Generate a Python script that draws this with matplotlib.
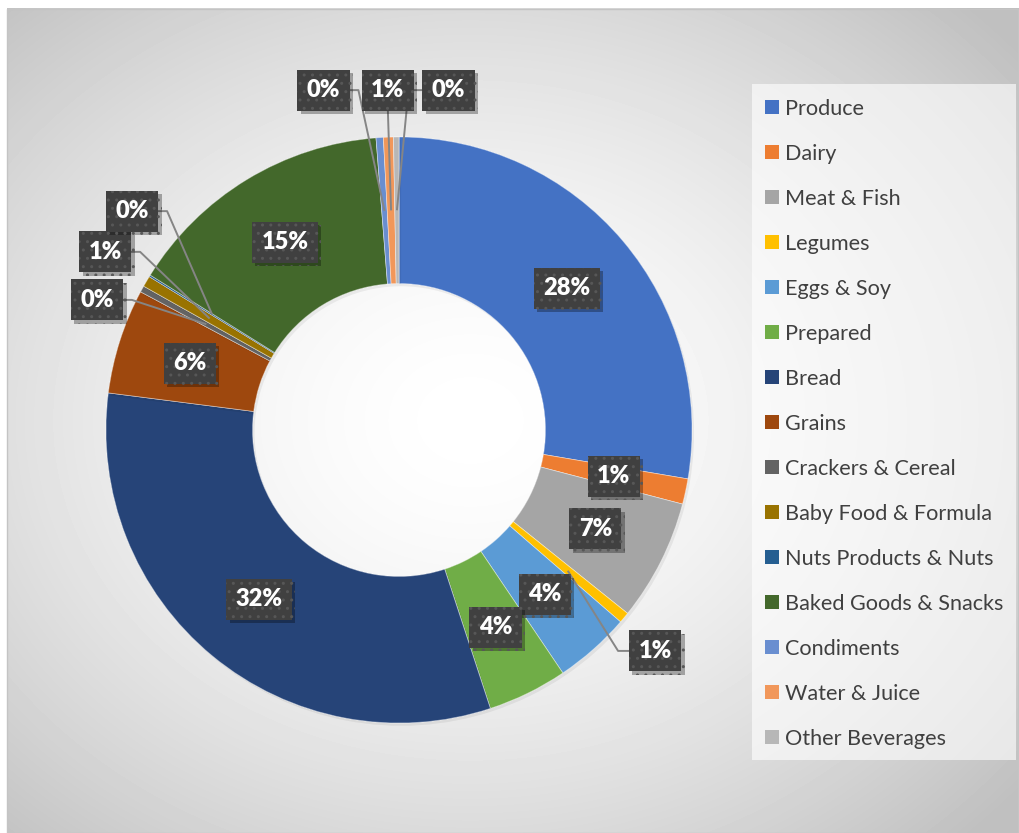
import numpy as np
import matplotlib
matplotlib.use("Agg")
import matplotlib.pyplot as plt
from matplotlib.patches import Rectangle
import matplotlib.patheffects as pe

# ---------------- data ----------------
categories = ["Produce", "Dairy", "Meat & Fish", "Legumes", "Eggs & Soy", "Prepared",
              "Bread", "Grains", "Crackers & Cereal", "Baby Food & Formula",
              "Nuts Products & Nuts", "Baked Goods & Snacks", "Condiments",
              "Water & Juice", "Other Beverages"]
values = [27.7, 1.4, 6.7, 0.6, 4.2, 4.4, 32.1, 5.8, 0.35, 0.6, 0.1, 14.9, 0.4, 0.55, 0.3]
colors = ["#4472C4", "#ED7D31", "#A5A5A5", "#FFC000", "#5B9BD5", "#70AD47",
          "#264478", "#9E480E", "#636363", "#997300", "#255E91", "#43682B",
          "#698ED0", "#F1975A", "#B7B7B7"]

FONT = ["Lato", "DejaVu Sans"]

W, H = 1019, 833
fig = plt.figure(figsize=(W / 100, H / 100), dpi=100)
fig.patch.set_facecolor("white")

# ---------------- background ----------------
bg = fig.add_axes([0, 0, 1, 1])
bg.set_xlim(0, W)
bg.set_ylim(H, 0)
bg.axis("off")
x0, y0 = 7, 8
yy, xx = np.mgrid[y0:H, x0:W]
gcx, gcy = 470, 420
d = np.sqrt(((xx - gcx) / ((W - x0) / 2)) ** 2 + ((yy - gcy) / ((H - y0) / 2)) ** 2) / np.sqrt(2)
d = np.clip(d, 0, 1)
shade = 1.0 - (1.0 - 0.75) * d ** 1.6
bg.imshow(shade, extent=(x0, W, H, y0), cmap="gray", vmin=0, vmax=1,
          aspect="auto", interpolation="bilinear", zorder=0)
bg.add_patch(Rectangle((x0 + 0.5, y0 + 0.5), W - x0 - 1, H - y0 - 1, fill=False,
                       ec="#c4c4c4", lw=1, zorder=1))

# legend background
bg.add_patch(Rectangle((752, 84), 264, 676, fc="white", alpha=0.62, ec="none", zorder=2))
for i, (cat, col) in enumerate(zip(categories, colors)):
    yc = 107 + 45 * i
    bg.add_patch(Rectangle((765, yc - 7), 14, 14, fc=col, ec="none", zorder=3))
    bg.text(785, yc + 8, cat, ha="left", va="baseline", fontsize=15.6,
            color="#404040", family=FONT, zorder=3)

# ---------------- donut ----------------
R = 293.0
cx, cy = 399.0, 430.0
ax = fig.add_axes([0, 0, 1, 1])
ax.patch.set_alpha(0)

wedges, _ = ax.pie(values, colors=colors, startangle=90, counterclock=False, radius=1.0,
                   wedgeprops=dict(width=0.5, edgecolor=(1, 1, 1, 0.5), linewidth=0.5))
for w in wedges:
    w.set_path_effects([pe.withSimplePatchShadow(offset=(1.5, -2), shadow_rgbFace="k",
                                                 alpha=0.06), pe.Normal()])
ax.set_xlim(-cx / R, (W - cx) / R)
ax.set_ylim(-(H - cy) / R, cy / R)
ax.set_aspect("auto")
ax.axis("off")

total = float(sum(values))
cum = np.cumsum(values)
mid_cw = (cum - np.array(values) / 2.0) / total * 360.0
ang = np.deg2rad(90.0 - mid_cw)
anchors = [(0.75 * np.cos(a), 0.75 * np.sin(a)) for a in ang]

px = 1.0 / R
# layout positions (data units) for labels that are moved out with leader lines
moved = {3: (0.874, -0.754), 8: (-1.031, 0.444), 9: (-1.003, 0.608), 10: (-0.911, 0.747),
         12: (-0.258, 1.160), 13: (-0.038, 1.160), 14: (0.169, 1.160)}
half_w, half_h = 25 * px, 20.5 * px

lc = "#858585"
for i, (lx, ly) in moved.items():
    axx, ayy = anchors[i]
    if i == 3:
        edge = lx - half_w
        pts = [(axx, ayy), (edge - 12 * px, ly), (edge, ly)]
    elif i == 13:
        pts = [(axx, ayy), (lx, ly - half_h)]
    elif i == 14:
        edge = lx - half_w
        pts = [(axx, ayy), (edge - 15 * px, ly), (edge, ly)]
    else:
        edge = lx + half_w
        pts = [(axx, ayy), (edge + 10 * px, ly), (edge, ly)]
    xs, ys = zip(*pts)
    ax.plot(xs, ys, color=lc, lw=1.4, zorder=4, solid_capstyle="butt")

for i, v in enumerate(values):
    pos = moved.get(i, anchors[i])
    txt = f"{round(v / total * 100)}%"
    t = ax.text(pos[0], pos[1], txt, ha="center", va="center", color="white",
                fontsize=17, fontweight="heavy", family=FONT, zorder=6,
                bbox=dict(boxstyle="square,pad=0.4", fc="#404040", ec="#575757",
                          lw=0, hatch=".."))
    t.get_bbox_patch().set_path_effects(
        [pe.withSimplePatchShadow(offset=(2.5, -2.5), shadow_rgbFace="k", alpha=0.3),
         pe.Normal()])

fig.savefig("out.png", dpi=100, facecolor="white")
